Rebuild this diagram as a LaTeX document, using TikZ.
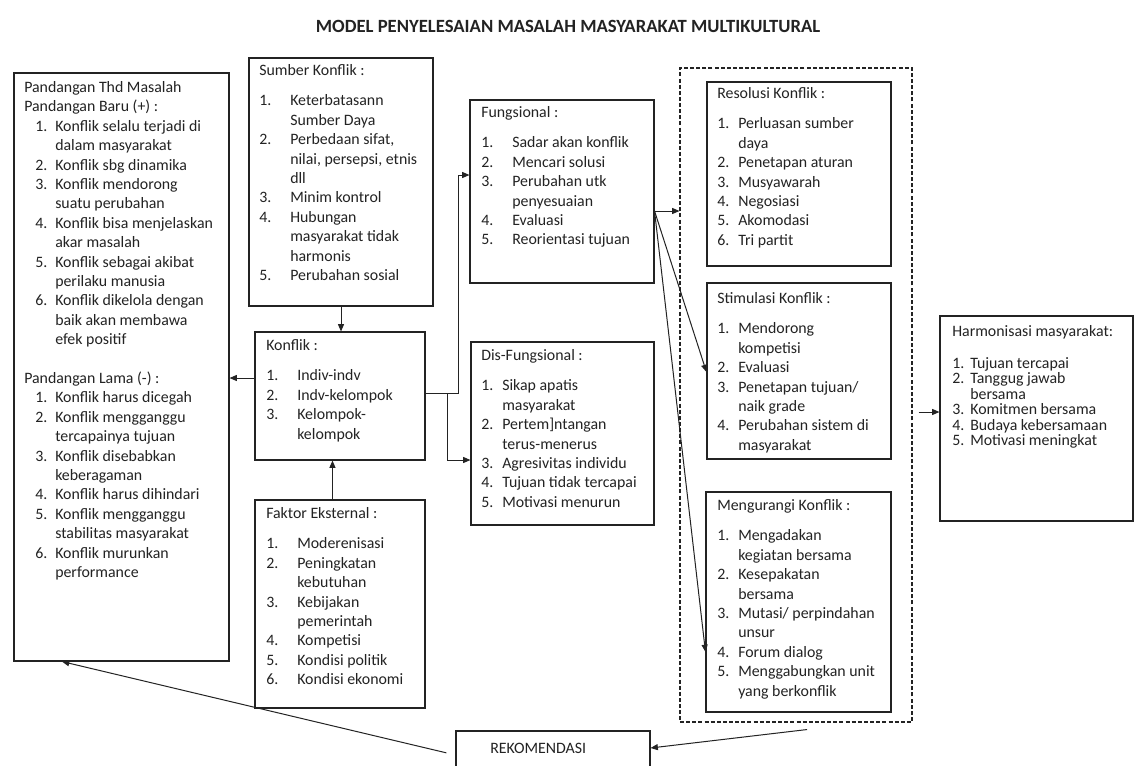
\documentclass[tikz,border=0pt]{standalone}
\usepackage{fontspec}
\setmainfont{Carlito}
\usetikzlibrary{arrows.meta,fit,calc}
\definecolor{ink}{RGB}{35,35,35}
\newlength\numind
\newlength\numw
\newcommand\itm[2]{\hspace*{\numind}\makebox[\numw][l]{#1}#2}
\newcommand\cnt[1]{\hspace*{\numind}\hspace*{\numw}#1}
\begin{document}
\begin{tikzpicture}[x=0.75pt,y=-0.75pt,
  box/.style={draw=ink,line width=0.8pt,inner sep=0pt},
  grp/.style={draw=ink,line width=0.8pt,inner sep=0pt,dash pattern=on 3pt off 1.6pt},
  txt/.style={anchor=north west,inner sep=0pt,align=left,text=ink,font=\fontsize{11.9}{14.55}\selectfont},
  lst/.style 2 args={execute at begin node={\setlength\numind{#1}\setlength\numw{#2}}},
  arr/.style={draw=ink,line width=0.75pt,-{Triangle[length=5.5pt,width=4.5pt]}},
  ln/.style={draw=ink,line width=0.75pt}]
\useasboundingbox (0,0) rectangle (1139,765);
\fill[white] (0,0) rectangle (1139,765);

% title
\node[inner sep=0pt,text=ink,font=\fontsize{14}{16}\selectfont\bfseries] (title) at (568,26) {MODEL PENYELESAIAN MASALAH MASYARAKAT MULTIKULTURAL};

% boxes
\node[box,fit={(14,73)(229,661)}] (pand) {};
\node[box,fit={(249,58)(433,306)}] (sumber) {};
\node[box,fit={(255,332)(425,460)}] (konf) {};
\node[box,fit={(255,500)(425,708)}] (fakt) {};
\node[box,fit={(470,100)(654,283)}] (fung) {};
\node[box,fit={(471,342)(654,525)}] (dis) {};
\node[grp,fit={(680,68)(912,722)}] (group) {};
\node[box,fit={(707,82)(891,266)}] (reso) {};
\node[box,fit={(707,283)(891,459)}] (stim) {};
\node[box,fit={(706,492)(891,712)}] (meng) {};
\node[box,fit={(940,316)(1133,521)}] (harm) {};
\node[box,fit={(456,731)(650,790)}] (rek) {};

% texts
\node[txt,lst={8.25pt}{15pt}] (pand-t) at (24,78.7) {\strut Pandangan Thd Masalah\\
Pandangan Baru (+) :\\
\itm{1.}{Konflik selalu terjadi di}\\
\cnt{dalam masyarakat}\\
\itm{2.}{Konflik sbg dinamika}\\
\itm{3.}{Konflik mendorong}\\
\cnt{suatu perubahan}\\
\itm{4.}{Konflik bisa menjelaskan}\\
\cnt{akar masalah}\\
\itm{5.}{Konflik sebagai akibat}\\
\cnt{perilaku manusia}\\
\itm{6.}{Konflik dikelola dengan}\\
\cnt{baik akan membawa}\\
\cnt{efek positif}\\[14.55pt]
Pandangan Lama (-) :\\
\itm{1.}{Konflik harus dicegah}\\
\itm{2.}{Konflik mengganggu}\\
\cnt{tercapainya tujuan}\\
\itm{3.}{Konflik disebabkan}\\
\cnt{keberagaman}\\
\itm{4.}{Konflik harus dihindari}\\
\itm{5.}{Konflik mengganggu}\\
\cnt{stabilitas masyarakat}\\
\itm{6.}{Konflik murunkan}\\
\cnt{performance}};

\node[txt,lst={0pt}{23.25pt}] (sumber-t) at (259,61.7) {\strut Sumber Konflik :\\[8.25pt]
\itm{1.}{Keterbatasann}\\
\cnt{Sumber Daya}\\
\itm{2.}{Perbedaan sifat,}\\
\cnt{nilai, persepsi, etnis}\\
\cnt{dll}\\
\itm{3.}{Minim kontrol}\\
\itm{4.}{Hubungan}\\
\cnt{masyarakat tidak}\\
\cnt{harmonis}\\
\itm{5.}{Perubahan sosial}};

\node[txt,lst={0pt}{23.25pt}] (konf-t) at (266,336.7) {\strut Konflik :\\[8.25pt]
\itm{1.}{Indiv-indv}\\
\itm{2.}{Indv-kelompok}\\
\itm{3.}{Kelompok-}\\
\cnt{kelompok}};

\node[txt,lst={0pt}{23.25pt}] (fakt-t) at (266,504.7) {\strut Faktor Eksternal :\\[8.25pt]
\itm{1.}{Moderenisasi}\\
\itm{2.}{Peningkatan}\\
\cnt{kebutuhan}\\
\itm{3.}{Kebijakan}\\
\cnt{pemerintah}\\
\itm{4.}{Kompetisi}\\
\itm{5.}{Kondisi politik}\\
\itm{6.}{Kondisi ekonomi}};

\node[txt,lst={0pt}{23.25pt}] (fung-t) at (481,103.7) {\strut Fungsional :\\[8.25pt]
\itm{1.}{Sadar akan konflik}\\
\itm{2.}{Mencari solusi}\\
\itm{3.}{Perubahan utk}\\
\cnt{penyesuaian}\\
\itm{4.}{Evaluasi}\\
\itm{5.}{Reorientasi tujuan}};

\node[txt,lst={0pt}{15.75pt}] (dis-t) at (481,346.7) {\strut Dis-Fungsional :\\[8.25pt]
\itm{1.}{Sikap apatis}\\
\cnt{masyarakat}\\
\itm{2.}{Pertem]ntangan}\\
\cnt{terus-menerus}\\
\itm{3.}{Agresivitas individu}\\
\itm{4.}{Tujuan tidak tercapai}\\
\itm{5.}{Motivasi menurun}};

\node[txt,lst={0pt}{15.75pt}] (reso-t) at (717,84.7) {\strut Resolusi Konflik :\\[8.25pt]
\itm{1.}{Perluasan sumber}\\
\cnt{daya}\\
\itm{2.}{Penetapan aturan}\\
\itm{3.}{Musyawarah}\\
\itm{4.}{Negosiasi}\\
\itm{5.}{Akomodasi}\\
\itm{6.}{Tri partit}};

\node[txt,lst={0pt}{15.75pt}] (stim-t) at (717,289.7) {\strut Stimulasi Konflik :\\[8.25pt]
\itm{1.}{Mendorong}\\
\cnt{kompetisi}\\
\itm{2.}{Evaluasi}\\
\itm{3.}{Penetapan tujuan/}\\
\cnt{naik grade}\\
\itm{4.}{Perubahan sistem di}\\
\cnt{masyarakat}};

\node[txt,lst={0pt}{15.75pt}] (meng-t) at (717,496.7) {\strut Mengurangi Konflik :\\[8.25pt]
\itm{1.}{Mengadakan}\\
\cnt{kegiatan bersama}\\
\itm{2.}{Kesepakatan}\\
\cnt{bersama}\\
\itm{3.}{Mutasi/ perpindahan}\\
\cnt{unsur}\\
\itm{4.}{Forum dialog}\\
\itm{5.}{Menggabungkan unit}\\
\cnt{yang berkonflik}};

\node[txt,lst={0pt}{13.5pt},font=\fontsize{11.9}{11.6}\selectfont] (harm-t) at (952,325.6) {\strut Harmonisasi masyarakat:\\[11pt]
\itm{1.}{Tujuan tercapai}\\
\itm{2.}{Tanggug jawab}\\
\cnt{bersama}\\
\itm{3.}{Komitmen bersama}\\
\itm{4.}{Budaya kebersamaan}\\
\itm{5.}{Motivasi meningkat}};

\node[inner sep=0pt,anchor=west,text=ink,font=\fontsize{11.9}{13}\selectfont] (rek-t) at (490,748) {REKOMENDASI};

% connectors
\draw[arr] (sumber.south) -- (sumber.south |- konf.north);
\draw[arr] ($(fakt.north west)+(78,0)$) -- ($(konf.south west)+(78,0)$);
\draw[arr] (konf.west |- 0,378) -- (pand.east |- 0,378);
\draw[arr] (konf.east |- 0,393) -- (458,393) -- (458,175) -- (fung.west |- 0,175);
\draw[arr] (447,393) -- (447,460) -- (dis.west |- 0,460);
\coordinate (fo) at (fung.east |- 0,211);
\draw[arr] (fo) -- (group.west |- fo);
\draw[arr] (fo) -- (stim.west |- 0,372);
\draw[arr] (fo) -- (meng.west |- 0,652);
\draw[arr,shorten <=4.5pt] (group.east |- 0,412) -- (harm.west |- 0,412);
\draw[arr] ($(group.south)+(11,7)$) -- (rek.east |- 0,748);
\draw[arr,shorten <=7pt] (rek.west |- 0,755) -- (pand.south -| 62,0);
\end{tikzpicture}
\end{document}
